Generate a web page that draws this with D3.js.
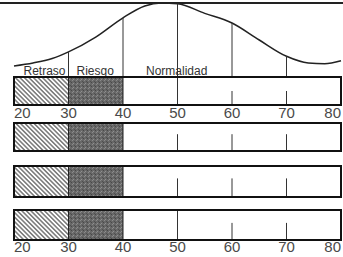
<!DOCTYPE html>
<html>
<head>
<meta charset="utf-8">
<script src="https://cdn.jsdelivr.net/npm/d3@7"></script>
<style>
  html, body { margin: 0; padding: 0; background: #fff; }
  svg { display: block; }
  text { -webkit-font-smoothing: grayscale; }
</style>
</head>
<body>
<div id="chart"></div>
<script>
// scores on the axis
const scoreTicks = [20, 30, 40, 50, 60, 70, 80];

// bands (retraso / riesgo / normalidad)
const bandLabels = ['Retraso', 'Riesgo', 'Normalidad'];
const bandStart = [20, 30, 40];
const bandEnd = [30, 40, 80];

// bell curve (score, relative height 0-100)
const curveScore = [20, 23.5, 27, 30, 35, 40, 44, 47, 50, 55, 60, 65, 70, 74, 77, 80];
const curveValue = [15, 19, 25, 34, 54, 80, 96, 100, 99, 86, 73, 50, 28, 19, 18, 22];

// guide lines dropped from the curve
const guideScores = [30, 40, 50, 60, 70];

// marks inside each bar (fraction of bar height)
const markScores = [50, 60, 70];
const rowMarks = [
  [1, 0.5, 0.5],
  [0.6, 0.6, 0.6],
  [0.6, 0.6, 0.6],
  [1, 0.57, 0.57]
];

const width = 343, height = 257;
const rowTop = [77, 123, 166, 210];
const rowBottom = [105, 151, 197, 240];

const svg = d3.select('#chart').append('svg')
  .attr('width', width)
  .attr('height', height);

const x = d3.scaleLinear().domain([20, 80]).range([14, 341]);
const yCurve = d3.scaleLinear().domain([0, 100]).range([77, 3]);

// patterns
const defs = svg.append('defs');
const hatch = defs.append('pattern')
  .attr('id', 'hatch')
  .attr('patternUnits', 'userSpaceOnUse')
  .attr('width', 3.2).attr('height', 3.2)
  .attr('patternTransform', 'rotate(-45)');
hatch.append('rect').attr('width', 3.2).attr('height', 3.2).attr('fill', '#fff');
hatch.append('line')
  .attr('x1', 0.8).attr('y1', 0).attr('x2', 0.8).attr('y2', 3.2)
  .attr('stroke', '#444').attr('stroke-width', 1.1);

const dots = defs.append('pattern')
  .attr('id', 'dots')
  .attr('patternUnits', 'userSpaceOnUse')
  .attr('width', 4).attr('height', 4);
dots.append('rect').attr('width', 4).attr('height', 4).attr('fill', '#686868');
[[0, 0, '#8a8a8a'], [2, 1, '#505050'], [1, 3, '#909090'], [3, 2, '#484848']].forEach(function(d) {
  dots.append('rect').attr('x', d[0]).attr('y', d[1]).attr('width', 1).attr('height', 1).attr('fill', d[2]);
});

// top line
svg.append('line')
  .attr('x1', 0).attr('x2', width)
  .attr('y1', yCurve(100)).attr('y2', yCurve(100))
  .attr('stroke', '#222').attr('stroke-width', 2);

// curve
const curvePts = curveScore.map(function(s, i) { return [s, curveValue[i]]; });
svg.append('path')
  .datum(curvePts)
  .attr('fill', 'none')
  .attr('stroke', '#222')
  .attr('stroke-width', 1.5)
  .attr('d', d3.line()
    .x(function(d) { return x(d[0]); })
    .y(function(d) { return yCurve(d[1]); })
    .curve(d3.curveMonotoneX));

// guide lines
svg.selectAll('.guide')
  .data(guideScores)
  .enter().append('line')
  .attr('class', 'guide')
  .attr('x1', function(d) { return x(d); })
  .attr('x2', function(d) { return x(d); })
  .attr('y1', function(d) { return yCurve(curveValue[curveScore.indexOf(d)]); })
  .attr('y2', rowTop[0])
  .attr('stroke', '#333').attr('stroke-width', 1);

// band labels
const labelX = [x(30) - 3, x(30) + 8, x(40) + 23];
const labelAnchor = ['end', 'start', 'start'];
svg.selectAll('.band-label')
  .data(bandLabels)
  .enter().append('text')
  .attr('class', 'band-label')
  .attr('x', function(d, i) { return labelX[i]; })
  .attr('y', 75)
  .attr('text-anchor', function(d, i) { return labelAnchor[i]; })
  .attr('font-family', 'Liberation Sans, Arial, sans-serif')
  .attr('font-size', 12)
  .attr('fill', '#333')
  .text(function(d) { return d; });

// bars
const fills = ['url(#hatch)', 'url(#dots)', '#fff'];
rowMarks.forEach(function(marks, r) {
  const g = svg.append('g');
  const top = rowTop[r], bot = rowBottom[r];
  g.selectAll('rect')
    .data(bandLabels)
    .enter().append('rect')
    .attr('x', function(d, i) { return x(bandStart[i]); })
    .attr('y', top)
    .attr('width', function(d, i) { return x(bandEnd[i]) - x(bandStart[i]); })
    .attr('height', bot - top)
    .attr('fill', function(d, i) { return fills[i]; });
  // band separators
  g.selectAll('.sep')
    .data([30, 40])
    .enter().append('line')
    .attr('x1', function(d) { return x(d); })
    .attr('x2', function(d) { return x(d); })
    .attr('y1', top).attr('y2', bot)
    .attr('stroke', '#222').attr('stroke-width', 1);
  // marks
  g.selectAll('.mark')
    .data(markScores)
    .enter().append('line')
    .attr('x1', function(d) { return x(d); })
    .attr('x2', function(d) { return x(d); })
    .attr('y1', function(d, i) { return bot - marks[i] * (bot - top); })
    .attr('y2', bot)
    .attr('stroke', '#333').attr('stroke-width', 1);
  // frame
  g.append('rect')
    .attr('x', x(20)).attr('y', top)
    .attr('width', x(80) - x(20)).attr('height', bot - top)
    .attr('fill', 'none')
    .attr('stroke', '#111').attr('stroke-width', 2);
});

// score labels (under first and last bar)
[118, 252].forEach(function(yy) {
  svg.selectAll(null)
    .data(scoreTicks)
    .enter().append('text')
    .attr('x', function(d) { return x(d); })
    .attr('y', yy)
    .attr('text-anchor', function(d) { return d === 20 ? 'start' : (d === 80 ? 'end' : 'middle'); })
    .attr('font-family', 'Liberation Sans, Arial, sans-serif')
    .attr('font-size', 15)
    .attr('fill', '#4a4a4a')
    .text(function(d) { return d; });
});
</script>
</body>
</html>
